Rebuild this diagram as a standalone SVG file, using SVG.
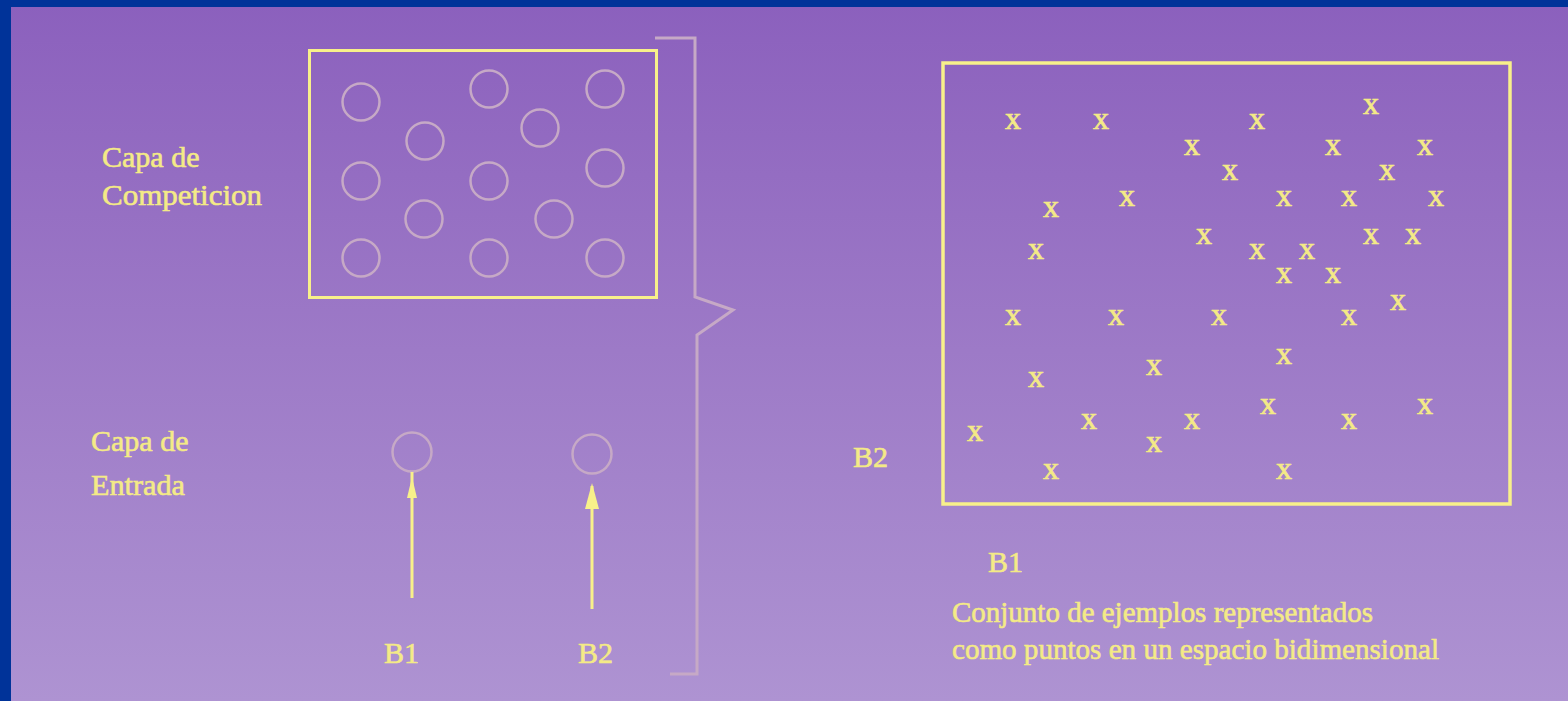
<svg xmlns="http://www.w3.org/2000/svg" width="1568" height="701" viewBox="0 0 1568 701">
<defs>
<linearGradient id="bg" x1="0" y1="0" x2="0" y2="1">
<stop offset="0" stop-color="#8B60BD"/>
<stop offset="0.5" stop-color="#9D7AC7"/>
<stop offset="1" stop-color="#AE93D2"/>
</linearGradient>
<style>
.t{font-family:"Liberation Serif","Times New Roman",serif;font-size:30px;fill:#F4EA86;stroke:#F4EA86;stroke-width:0.6}
.x{font-family:"Liberation Serif","Times New Roman",serif;font-size:32px;fill:#F4EA86;stroke:#F4EA86;stroke-width:0.7;text-anchor:middle}
.ybox{fill:none;stroke:#F8F08A}
.nd{fill:none;stroke:#C6A9C6;stroke-width:2.5}
.ln{stroke:#F8F08A;stroke-width:3}
.ah{fill:#F8F08A}
.br{fill:none;stroke:#C6A9C6;stroke-width:3}
</style>
</defs>
<rect x="0" y="0" width="1568" height="701" fill="url(#bg)"/>
<rect x="0" y="0" width="1568" height="7" fill="#003399"/>
<rect x="0" y="0" width="11" height="701" fill="#003399"/>

<g id="labels-left">
<text class="t" x="102" y="167">Capa de</text>
<text class="t" x="102" y="205" textLength="160" lengthAdjust="spacingAndGlyphs">Competicion</text>
<text class="t" x="91" y="451">Capa de</text>
<text class="t" x="91" y="495" textLength="94" lengthAdjust="spacingAndGlyphs">Entrada</text>
</g>

<g id="competition-layer">
<rect class="ybox" x="309.5" y="50.5" width="347" height="247" stroke-width="3"/>
<circle class="nd" cx="361" cy="102" r="18.5"/>
<circle class="nd" cx="489" cy="89" r="18.5"/>
<circle class="nd" cx="605" cy="89" r="18.5"/>
<circle class="nd" cx="425" cy="141" r="18.5"/>
<circle class="nd" cx="540" cy="128" r="18.5"/>
<circle class="nd" cx="361" cy="181" r="18.5"/>
<circle class="nd" cx="489" cy="181" r="18.5"/>
<circle class="nd" cx="605" cy="168" r="18.5"/>
<circle class="nd" cx="424" cy="219" r="18.5"/>
<circle class="nd" cx="554" cy="219" r="18.5"/>
<circle class="nd" cx="361" cy="258" r="18.5"/>
<circle class="nd" cx="489" cy="258" r="18.5"/>
<circle class="nd" cx="605" cy="258" r="18.5"/>
</g>

<g id="input-b1">
<circle class="nd" cx="412" cy="452" r="19.5"/>
<text class="t" x="384" y="663">B1</text>
</g>
<g id="input-b2">
<circle class="nd" cx="592" cy="454" r="19.5"/>
<text class="t" x="578" y="663">B2</text>
</g>

<g id="connectors">
<line class="ln" x1="412" y1="598" x2="412" y2="472"/>
<polygon class="ah" points="412,477 417,498 407,498"/>
<line class="ln" x1="592" y1="609" x2="592" y2="486"/>
<polygon class="ah" points="592,483 599,509 585,509"/>
<path class="br" d="M655,38 H695 V297 L733,310 L697,335 V674 H670"/>
</g>

<g id="input-space">
<rect class="ybox" x="943" y="63" width="567" height="441" stroke-width="3.5"/>
<g>
<text class="x" x="1371" y="114">x</text>
<text class="x" x="1013" y="129">x</text>
<text class="x" x="1101" y="129">x</text>
<text class="x" x="1257" y="129">x</text>
<text class="x" x="1192" y="155">x</text>
<text class="x" x="1333" y="155">x</text>
<text class="x" x="1425" y="155">x</text>
<text class="x" x="1230" y="180">x</text>
<text class="x" x="1387" y="180">x</text>
<text class="x" x="1127" y="206">x</text>
<text class="x" x="1284" y="206">x</text>
<text class="x" x="1349" y="206">x</text>
<text class="x" x="1436" y="206">x</text>
<text class="x" x="1051" y="217">x</text>
<text class="x" x="1204" y="244">x</text>
<text class="x" x="1371" y="244">x</text>
<text class="x" x="1413" y="244">x</text>
<text class="x" x="1036" y="259">x</text>
<text class="x" x="1257" y="259">x</text>
<text class="x" x="1307" y="259">x</text>
<text class="x" x="1284" y="283">x</text>
<text class="x" x="1333" y="283">x</text>
<text class="x" x="1398" y="310">x</text>
<text class="x" x="1013" y="325">x</text>
<text class="x" x="1116" y="325">x</text>
<text class="x" x="1219" y="325">x</text>
<text class="x" x="1349" y="325">x</text>
<text class="x" x="1284" y="364">x</text>
<text class="x" x="1154" y="375">x</text>
<text class="x" x="1036" y="387">x</text>
<text class="x" x="1268" y="414">x</text>
<text class="x" x="1425" y="414">x</text>
<text class="x" x="1089" y="429">x</text>
<text class="x" x="1192" y="429">x</text>
<text class="x" x="1349" y="429">x</text>
<text class="x" x="975" y="441">x</text>
<text class="x" x="1154" y="452">x</text>
<text class="x" x="1051" y="479">x</text>
<text class="x" x="1284" y="479">x</text>
</g>
<text class="t" x="853" y="467">B2</text>
<text class="t" x="988" y="572">B1</text>
<text class="t" x="952" y="622" textLength="421" lengthAdjust="spacingAndGlyphs">Conjunto de ejemplos representados</text>
<text class="t" x="952" y="659" textLength="487" lengthAdjust="spacingAndGlyphs">como puntos en un espacio bidimensional</text>
</g>
</svg>
